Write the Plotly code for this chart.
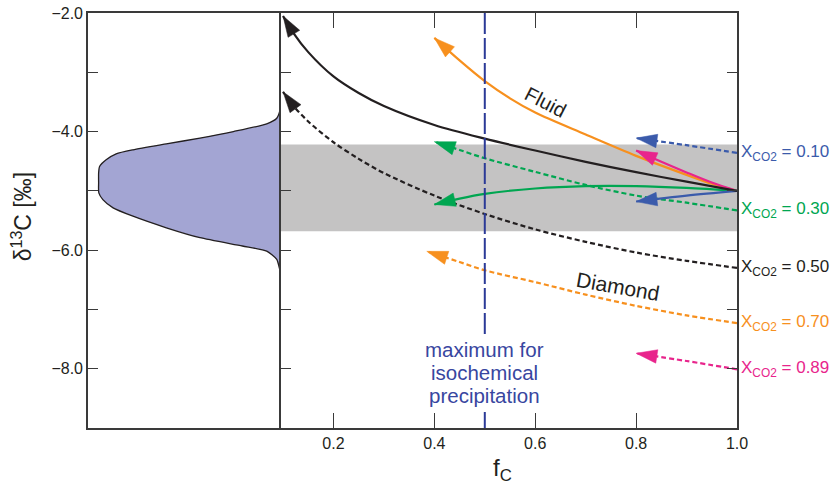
import plotly.graph_objects as go

# ---------------- data ----------------
# left panel: distribution of diamond d13C (relative frequency, 0..1 of panel width)
dens_d13c = [-3.47, -3.635, -3.775, -3.87, -4.0, -4.11, -4.207, -4.307, -4.375, -4.475, -4.588,
             -4.70, -4.86, -5.035, -5.148, -5.287, -5.428, -5.623, -5.79, -5.93, -6.017,
             -6.156, -6.35, -6.40]
dens_freq = [0.0, 0.005, 0.022, 0.074, 0.247, 0.42, 0.594, 0.767, 0.854, 0.906, 0.94,
             0.945, 0.945, 0.944, 0.923, 0.87, 0.767, 0.594, 0.42, 0.20, 0.074,
             0.022, 0.005, 0.0]

# right panel: Rayleigh paths, f_C from 1.0 towards the arrow tip
fluid_050_f = [1.0, 0.9, 0.8, 0.7, 0.6, 0.5, 0.4, 0.3, 0.25, 0.2, 0.15, 0.12, 0.10]
fluid_050_d = [-5.0, -4.845, -4.685, -4.51, -4.32, -4.12, -3.89, -3.57, -3.35, -3.07, -2.66, -2.33, -2.05]
diam_050_f = [1.0, 0.9, 0.8, 0.7, 0.6, 0.5, 0.4, 0.3, 0.25, 0.2, 0.15, 0.12, 0.10]
diam_050_d = [-6.30, -6.18, -6.04, -5.86, -5.65, -5.39, -5.08, -4.70, -4.46, -4.18, -3.83, -3.56, -3.33]

fluid_070_f = [1.0, 0.95, 0.9, 0.8, 0.7, 0.6, 0.55, 0.5, 0.45, 0.40]
fluid_070_d = [-5.0, -4.88, -4.73, -4.41, -4.05, -3.68, -3.44, -3.15, -2.80, -2.42]
diam_070_f = [1.0, 0.9, 0.8, 0.7, 0.6, 0.5, 0.45, 0.385]
diam_070_d = [-7.23, -7.10, -6.94, -6.75, -6.54, -6.34, -6.20, -6.02]

fluid_089_f = [1.0, 0.95, 0.9, 0.85, 0.80]
fluid_089_d = [-5.0, -4.86, -4.69, -4.51, -4.32]
diam_089_f = [1.0, 0.9, 0.8]
diam_089_d = [-8.01, -7.87, -7.74]

fluid_030_f = [1.0, 0.9, 0.8, 0.7, 0.6, 0.5, 0.45, 0.40]
fluid_030_d = [-5.0, -4.95, -4.92, -4.92, -4.96, -5.05, -5.13, -5.23]
diam_030_f = [1.0, 0.9, 0.8, 0.7, 0.6, 0.5, 0.45, 0.40]
diam_030_d = [-5.33, -5.20, -5.08, -4.90, -4.68, -4.45, -4.31, -4.17]

fluid_010_f = [1.0, 0.9, 0.8]
fluid_010_d = [-5.0, -5.08, -5.18]
diam_010_f = [1.0, 0.9, 0.8]
diam_010_d = [-4.36, -4.23, -4.11]

band_d13c = [-4.22, -5.68]          # grey band (range of diamond values)
f_isochem = 0.5                      # maximum for isochemical precipitation

series_labels = ["0.10", "0.30", "0.50", "0.70", "0.89"]
series_ends = [diam_010_d[0], diam_030_d[0], diam_050_d[0], diam_070_d[0], diam_089_d[0]]

y_tickvals = [-8, -7, -6, -5, -4, -3, -2]
y_ticktext = ["\u22128.0", "", "\u22126.0", "", "\u22124.0", "", "\u22122.0"]
x_tickvals = [0.2, 0.4, 0.6, 0.8, 1.0]
x_ticktext = ["0.2", "0.4", "0.6", "0.8", "1.0"]

# ---------------- styles ----------------
FONT = "Liberation Sans, Arial, sans-serif"
BLACK = "#231f20"
BLUE = "#3b5bab"
GREEN = "#00a651"
ORANGE = "#f7901e"
MAGENTA = "#e8258c"
PURPLE = "#a3a5d3"
DKBLUE = "#2b3a97"
AXIS = "#3a3a3a"
GREY = "#c4c3c3"
DASH = "5px,3px"

fig = go.Figure()

# left panel density
fig.add_trace(go.Scatter(
    x=dens_freq, y=dens_d13c, xaxis="x", yaxis="y", mode="lines",
    fill="tozerox", fillcolor=PURPLE,
    line=dict(color=BLACK, width=1.3, shape="spline", smoothing=0.6),
    hoverinfo="skip", showlegend=False))


def curve(f, d, color, dash):
    n = len(f)
    fig.add_trace(go.Scatter(
        x=f, y=d, xaxis="x2", yaxis="y2", mode="lines+markers",
        line=dict(color=color, width=2.2, dash=dash, shape="spline", smoothing=0.9),
        marker=dict(symbol=["circle"] * (n - 1) + ["arrow"],
                    size=[0] * (n - 1) + [22], angleref="previous", opacity=1,
                    color=color, line=dict(width=0.5, color=color)),
        cliponaxis=False, hoverinfo="skip", showlegend=False))


curve(diam_050_f, diam_050_d, BLACK, DASH)
curve(diam_070_f, diam_070_d, ORANGE, DASH)
curve(diam_089_f, diam_089_d, MAGENTA, DASH)
curve(diam_030_f, diam_030_d, GREEN, DASH)
curve(diam_010_f, diam_010_d, BLUE, DASH)
curve(fluid_070_f, fluid_070_d, ORANGE, "solid")
curve(fluid_089_f, fluid_089_d, MAGENTA, "solid")
curve(fluid_030_f, fluid_030_d, GREEN, "solid")
curve(fluid_010_f, fluid_010_d, BLUE, "solid")
curve(fluid_050_f, fluid_050_d, BLACK, "solid")

shapes = [
    dict(type="rect", xref="x2 domain", yref="y2", x0=0, x1=1, y0=band_d13c[1], y1=band_d13c[0],
         fillcolor=GREY, line=dict(width=0), layer="below"),
    dict(type="line", xref="x2", yref="y2", x0=f_isochem, x1=f_isochem, y0=-2.0, y1=-7.47,
         line=dict(color=DKBLUE, width=2, dash="21px,4px")),
    dict(type="line", xref="x2", yref="y2", x0=f_isochem, x1=f_isochem, y0=-8.73, y1=-9.0,
         line=dict(color=DKBLUE, width=2, dash="21px,4px")),
]

colors = [BLUE, GREEN, BLACK, ORANGE, MAGENTA]
ann = []
for lab, yv, c in zip(series_labels, series_ends, colors):
    ann.append(dict(xref="x2", yref="y2", x=1.0, y=yv, xanchor="left", yanchor="middle",
                    xshift=2, showarrow=False, text="X<sub>CO2</sub> = " + lab,
                    font=dict(family=FONT, size=17, color=c)))
ann.append(dict(xref="x2", yref="y2", x=0.62, y=-3.50, text="Fluid", showarrow=False,
                textangle=27, font=dict(family=FONT, size=20, color=BLACK)))
ann.append(dict(xref="x2", yref="y2", x=0.765, y=-6.61, text="Diamond", showarrow=False,
                textangle=10, font=dict(family=FONT, size=21, color=BLACK)))
for txt, yv in zip(["maximum for", "isochemical", "precipitation"], [-7.669, -8.056, -8.459]):
    ann.append(dict(xref="x2", yref="y2", x=f_isochem, y=yv, text=txt, showarrow=False,
                    xanchor="center", yanchor="middle",
                    font=dict(family=FONT, size=20.5, color="#3846a0")))
ann.append(dict(xref="paper", yref="paper", x=-0.1017, y=0.51, text="\u03b4<sup>13</sup>C [\u2030]",
                textangle=-90, showarrow=False, xanchor="center", yanchor="middle",
                font=dict(family=FONT, size=23, color=BLACK)))
ann.append(dict(xref="paper", yref="paper", x=0.639, y=-0.10, text="f<sub>C</sub>",
                showarrow=False, xanchor="center", yanchor="middle",
                font=dict(family=FONT, size=24, color=BLACK)))

split = 0.2974
fig.update_layout(
    width=834, height=491,
    margin=dict(l=88, r=97, t=13, b=63, autoexpand=False),
    paper_bgcolor="white", plot_bgcolor="white",
    font=dict(family=FONT, size=16, color=BLACK),
    showlegend=False,
    shapes=shapes, annotations=ann,
    xaxis=dict(domain=[0, split], range=[1.0, 0.0], showline=True, mirror=True,
               linecolor=AXIS, linewidth=1.6, ticks="", showticklabels=False,
               showgrid=False, zeroline=False, automargin=False),
    yaxis=dict(range=[-9, -2], tickvals=y_tickvals, ticktext=y_ticktext,
               ticks="inside", ticklen=10, tickwidth=1.4, tickcolor=AXIS,
               showline=True, mirror=False, linecolor=AXIS, linewidth=1.6,
               showgrid=False, zeroline=False, tickfont=dict(size=16), automargin=False),
    xaxis2=dict(domain=[split, 1], range=[0.096, 1.0], anchor="y2",
                tickvals=x_tickvals, ticktext=x_ticktext,
                ticks="inside", ticklen=15, tickwidth=1.4, tickcolor=AXIS,
                showline=True, mirror="ticks", linecolor=AXIS, linewidth=1.6,
                showgrid=False, zeroline=False, tickfont=dict(size=16), automargin=False),
    yaxis2=dict(range=[-9, -2], anchor="x2", tickvals=[-8, -7, -6, -5, -4, -3],
                ticks="inside", ticklen=10, tickwidth=1.4, tickcolor=AXIS,
                showticklabels=False, showline=True, mirror="ticks",
                linecolor=AXIS, linewidth=1.6, showgrid=False, zeroline=False, automargin=False),
)

fig.write_html("out.html", config={"displayModeBar": False},
               post_script="document.body.style.margin='0';")
